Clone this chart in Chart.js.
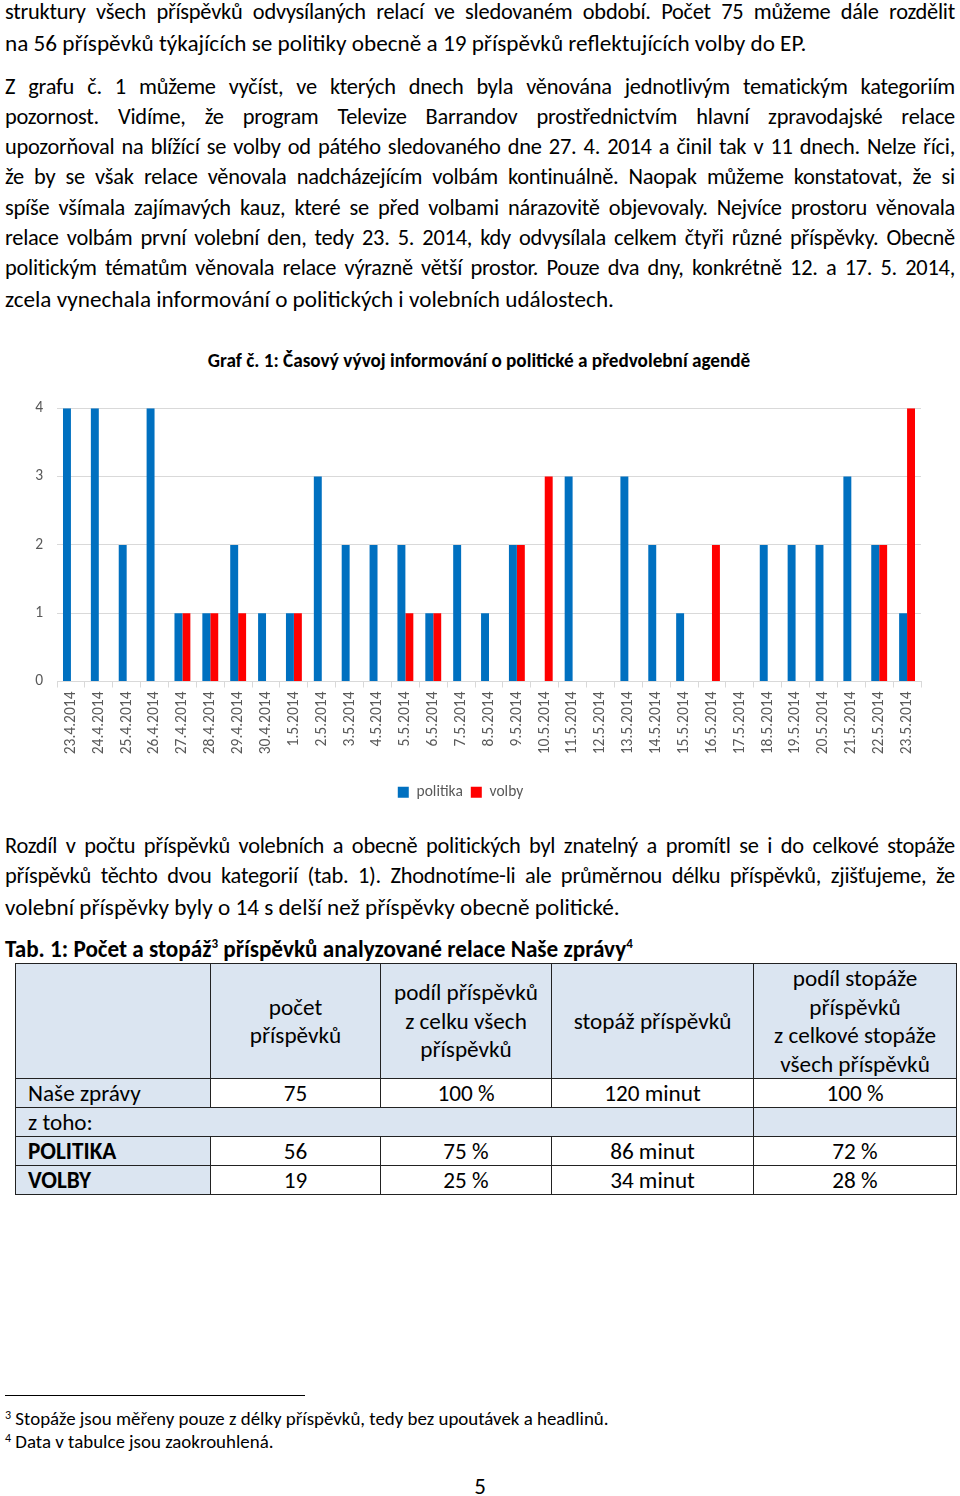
<!DOCTYPE html>
<html lang="cs">
<head>
<meta charset="utf-8">
<title>Graf č. 1</title>
<script src="https://cdn.jsdelivr.net/npm/chart.js@4.4.1/dist/chart.umd.min.js"></script>
<style>
  body { margin: 0; background: #fff; font-family: Carlito, Lato, "Noto Sans", sans-serif; color: #000; }
  #page { position: relative; width: 960px; height: 1496px; overflow: hidden; }
  .ln { position: absolute; left: 5px; width: 950px; height: 30px; line-height: 30px; font-size: 22.4px; letter-spacing: -0.25px;
        text-align: justify; text-align-last: justify; white-space: normal; }
  .ln.last { text-align-last: left; letter-spacing: 0; font-size: 23.2px; }
  #graf-title { position: absolute; left: 0; width: 958px; top: 349px; text-align: center; font-weight: bold; font-size: 19.2px; }
  #chart-box { position: absolute; left: 0; top: 385px; width: 960px; height: 429px; }
  #tab-cap { position: absolute; left: 5px; top: 934px; font-weight: bold; font-size: 23.2px; line-height: 30px; }
  #tab-cap sup { font-size: 13px; vertical-align: 9px; line-height: 0; }
  table { position: absolute; left: 15px; top: 963px; border-collapse: collapse; font-size: 23.2px; table-layout: fixed; width: 941px; }
  td { border: 1px solid #222; padding: 0 0 0 12px; height: 28px; line-height: 24px; white-space: nowrap; }
  td.c { text-align: center; padding: 0; }
  .blue { background: #dbe5f1; }
  tr.head td { height: 114px; text-align: center; padding: 0; line-height: 28.5px; }
  #fn-line { position: absolute; left: 5px; top: 1395px; width: 300px; border-top: 1px solid #000; }
  .fn { position: absolute; left: 5px; font-size: 18.9px; line-height: 22px; }
  .fn sup { font-size: 12px; vertical-align: 6px; line-height: 0; }
  #pgno { position: absolute; left: 0; width: 960px; top: 1472px; text-align: center; font-size: 23px; }
</style>
</head>
<body>
<div id="page">
  <div class="ln" style="top:-3px">struktury všech příspěvků odvysílaných relací ve sledovaném období. Počet 75 můžeme dále rozdělit</div>
  <div class="ln last" style="top:28px">na 56 příspěvků týkajících se politiky obecně a 19 příspěvků reflektujících volby do EP.</div>

  <div class="ln" style="top:72px">Z grafu č. 1 můžeme vyčíst, ve kterých dnech byla věnována jednotlivým tematickým kategoriím</div>
  <div class="ln" style="top:102px">pozornost. Vidíme, že program Televize Barrandov prostřednictvím hlavní zpravodajské relace</div>
  <div class="ln" style="top:132px">upozorňoval na blížící se volby od pátého sledovaného dne 27. 4. 2014 a činil tak v 11 dnech. Nelze říci,</div>
  <div class="ln" style="top:162px">že by se však relace věnovala nadcházejícím volbám kontinuálně. Naopak můžeme konstatovat, že si</div>
  <div class="ln" style="top:193px">spíše všímala zajímavých kauz, které se před volbami nárazovitě objevovaly. Nejvíce prostoru věnovala</div>
  <div class="ln" style="top:223px">relace volbám první volební den, tedy 23. 5. 2014, kdy odvysílala celkem čtyři různé příspěvky. Obecně</div>
  <div class="ln" style="top:253px">politickým tématům věnovala relace výrazně větší prostor. Pouze dva dny, konkrétně 12. a 17. 5. 2014,</div>
  <div class="ln last" style="top:284px">zcela vynechala informování o politických i volebních událostech.</div>

  <div id="graf-title">Graf č. 1: Časový vývoj informování o politické a předvolební agendě</div>
  <div id="chart-box"><canvas id="graf"></canvas></div>

  <div class="ln" style="top:831px">Rozdíl v počtu příspěvků volebních a obecně politických byl znatelný a promítl se i do celkové stopáže</div>
  <div class="ln" style="top:861px">příspěvků těchto dvou kategorií (tab. 1). Zhodnotíme-li ale průměrnou délku příspěvků, zjišťujeme, že</div>
  <div class="ln last" style="top:892px">volební příspěvky byly o 14 s delší než příspěvky obecně politické.</div>

  <div id="tab-cap">Tab. 1: Počet a stopáž<sup>3</sup> příspěvků analyzované relace Naše zprávy<sup>4</sup></div>
  <table>
    <colgroup><col style="width:195px"><col style="width:170px"><col style="width:171px"><col style="width:202px"><col style="width:203px"></colgroup>
    <tr class="head">
      <td class="blue"></td>
      <td class="blue">počet<br>příspěvků</td>
      <td class="blue">podíl příspěvků<br>z celku všech<br>příspěvků</td>
      <td class="blue">stopáž příspěvků</td>
      <td class="blue">podíl stopáže<br>příspěvků<br>z celkové stopáže<br>všech příspěvků</td>
    </tr>
    <tr><td class="blue">Naše zprávy</td><td class="c">75</td><td class="c">100 %</td><td class="c">120 minut</td><td class="c">100 %</td></tr>
    <tr><td class="blue" colspan="4">z toho:</td><td class="blue"></td></tr>
    <tr><td class="blue"><b>POLITIKA</b></td><td class="c">56</td><td class="c">75 %</td><td class="c">86 minut</td><td class="c">72 %</td></tr>
    <tr><td class="blue"><b>VOLBY</b></td><td class="c">19</td><td class="c">25 %</td><td class="c">34 minut</td><td class="c">28 %</td></tr>
  </table>

  <div id="fn-line"></div>
  <div class="fn" style="top:1408px"><sup>3</sup> Stopáže jsou měřeny pouze z délky příspěvků, tedy bez upoutávek a headlinů.</div>
  <div class="fn" style="top:1431px"><sup>4</sup> Data v tabulce jsou zaokrouhlená.</div>
  <div id="pgno">5</div>
</div>

<script>
// dny sledovaného období
const days = [
  "23.4.2014", "24.4.2014", "25.4.2014", "26.4.2014", "27.4.2014", "28.4.2014", "29.4.2014", "30.4.2014",
  "1.5.2014", "2.5.2014", "3.5.2014", "4.5.2014", "5.5.2014", "6.5.2014", "7.5.2014", "8.5.2014",
  "9.5.2014", "10.5.2014", "11.5.2014", "12.5.2014", "13.5.2014", "14.5.2014", "15.5.2014", "16.5.2014",
  "17.5.2014", "18.5.2014", "19.5.2014", "20.5.2014", "21.5.2014", "22.5.2014", "23.5.2014"
];
// pocet prispevku za den
const politika = [4, 4, 2, 4, 1, 1, 2, 1, 1, 3, 2, 2, 2, 1, 2, 1, 2, 0, 3, 0, 3, 2, 1, 0, 0, 2, 2, 2, 3, 2, 1];
const volby    = [0, 0, 0, 0, 1, 1, 1, 0, 1, 0, 0, 0, 1, 1, 0, 0, 2, 3, 0, 0, 0, 0, 0, 2, 0, 0, 0, 0, 0, 2, 4];
const yTicks = [0, 1, 2, 3, 4];

const grey = "#595959";
const labelFont = { family: "Carlito, Lato, sans-serif", size: 15.5 };

const ctx = document.getElementById("graf").getContext("2d");
const chart = new Chart(ctx, {
  type: "bar",
  data: {
    labels: days,
    datasets: [
      { label: "politika", data: politika, backgroundColor: "#0070c0", borderWidth: 0 },
      { label: "volby", data: volby, backgroundColor: "#ff0000", borderWidth: 0 },
    ],
  },
  options: {
    responsive: true,
    maintainAspectRatio: false,
    animation: false,
    categoryPercentage: 0.57,
    barPercentage: 1.0,
    layout: { padding: { top: 10, right: 39, bottom: 4, left: 0 } },
    plugins: {
      legend: {
        position: "bottom",
        labels: { boxWidth: 11, boxHeight: 11, padding: 8, color: grey, font: labelFont },
      },
      tooltip: { enabled: false },
    },
    scales: {
      x: {
        grid: { display: true, drawOnChartArea: false, drawTicks: true, tickLength: 6, color: "#d9d9d9", offset: true },
        border: { color: "#d9d9d9" },
        ticks: { color: grey, font: labelFont, minRotation: 90, maxRotation: 90, autoSkip: false, padding: 4 },
        afterFit: (scale) => { scale.height = 95; },
      },
      y: {
        min: 0,
        max: 4,
        afterBuildTicks: (scale) => { scale.ticks = yTicks.map((v) => ({ value: v })); },
        grid: { color: "#d9d9d9", drawTicks: false },
        border: { display: false },
        ticks: { color: grey, font: labelFont, padding: 14 },
        afterFit: (scale) => { scale.width = 57; },
      },
    },
  },
});
</script>
</body>
</html>
